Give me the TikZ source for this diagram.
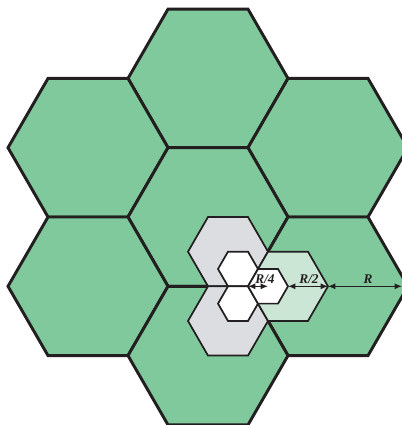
\documentclass[tikz,border=0pt]{standalone}
\usepackage{fontspec}
\setmainfont{Liberation Serif}
\usetikzlibrary{arrows.meta}
\definecolor{hexgreen}{RGB}{128,201,156}
\definecolor{hexlight}{RGB}{204,230,213}
\definecolor{hexgray}{RGB}{220,221,224}
\definecolor{linecol}{RGB}{35,31,32}
\tikzset{
  pics/hexa/.style={code={\path[pic actions] (0:#1) -- (60:#1) -- (120:#1) -- (180:#1) -- (240:#1) -- (300:#1) -- cycle;}},
  bighex/.style={fill=hexgreen,draw=linecol,line width=2.2pt},
  grayhex/.style={fill=hexgray,draw=linecol,line width=1.3pt},
  lighthex/.style={fill=hexlight,draw=linecol,line width=1.3pt},
  whitehex/.style={fill=white,draw=linecol,line width=1.3pt},
  dimarrow/.style={draw=linecol,line width=0.9pt,{Latex[length=5.5pt,width=4.5pt]}-{Latex[length=5.5pt,width=4.5pt]}},
  dimlabel/.style={font=\fontsize{10}{11}\selectfont\bfseries\itshape,text=linecol,inner sep=0pt}
}
\begin{document}
\begin{tikzpicture}[x=0.75pt,y=-0.75pt]
\useasboundingbox (0,0) rectangle (402,425);
\clip (0,0) rectangle (402,425);
% large cells
\pic[bighex] at (208,78.4) {hexa=80};
\pic[bighex] at (88,147.7) {hexa=80};
\pic[bighex] at (328,147.7) {hexa=80};
\pic[bighex] at (208,217) {hexa=80};
\pic[bighex] at (88,286.3) {hexa=80};
\pic[bighex] at (328,286.3) {hexa=80};
\pic[bighex] at (208,355.6) {hexa=80};
% half-size cells
\pic[grayhex] at (228,251.64) {hexa=40};
\pic[grayhex] at (228,320.96) {hexa=40};
\pic[lighthex] at (288,286.3) {hexa=40};
% quarter-size cells
\pic[whitehex] at (238,268.98) {hexa=20};
\pic[whitehex] at (238,303.62) {hexa=20};
\pic[whitehex] at (268,286.3) {hexa=20};
% dimension points
\coordinate (p0) at (248,286.3);
\coordinate (p1) at (268,286.3);
\coordinate (p2) at (288,286.3);
\coordinate (p3) at (328,286.3);
\coordinate (p4) at (402,286.3);
\draw[dimarrow] (p0) -- (p1);
\draw[dimarrow] (p2) -- (p3);
\draw[dimarrow] (p3) -- (p4);
\node[dimlabel] (l4) at (265,279) {R/4};
\node[dimlabel] (l2) at (309,279) {R/2};
\node[dimlabel] (l1) at (368,279) {R};
\end{tikzpicture}
\end{document}
